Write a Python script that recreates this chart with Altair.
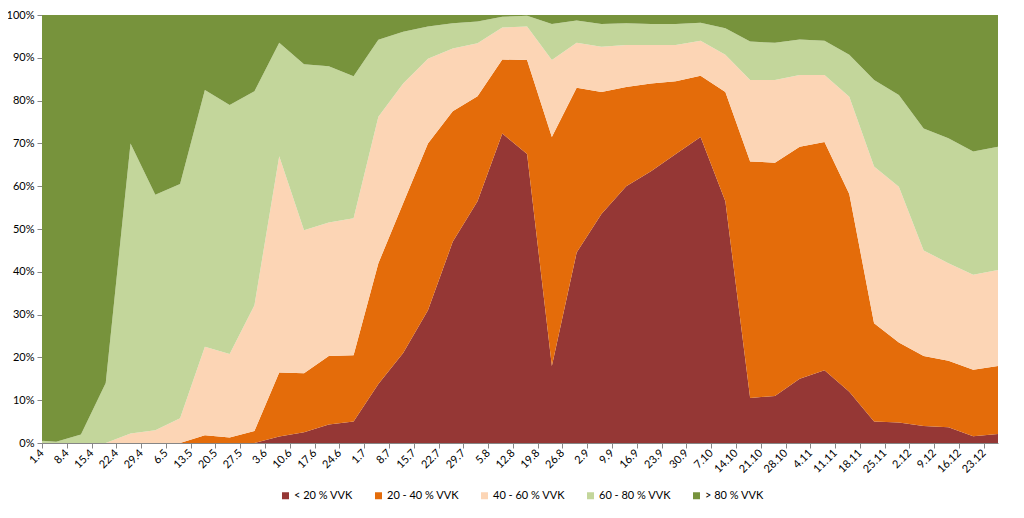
import altair as alt
import pandas as pd

# Data point dates (d.m)
dates = ["1.4", "5.4", "12.4", "19.4", "26.4", "3.5", "10.5", "17.5", "24.5", "31.5",
         "7.6", "14.6", "21.6", "28.6", "5.7", "12.7", "19.7", "26.7", "2.8", "9.8",
         "16.8", "23.8", "30.8", "6.9", "13.9", "20.9", "27.9", "4.10", "11.10", "18.10",
         "25.10", "1.11", "8.11", "15.11", "22.11", "29.11", "6.12", "13.12", "20.12", "27.12"]

# Axis tick labels (weekly)
tick_labels = ["1.4", "8.4", "15.4", "22.4", "29.4", "6.5", "13.5", "20.5", "27.5", "3.6",
               "10.6", "17.6", "24.6", "1.7", "8.7", "15.7", "22.7", "29.7", "5.8", "12.8",
               "19.8", "26.8", "2.9", "9.9", "16.9", "23.9", "30.9", "7.10", "14.10", "21.10",
               "28.10", "4.11", "11.11", "18.11", "25.11", "2.12", "9.12", "16.12", "23.12"]

categories = ["< 20 % VVK", "20 - 40 % VVK", "40 - 60 % VVK", "60 - 80 % VVK", "> 80 % VVK"]
colors = ["#953735", "#E46C0A", "#FCD5B5", "#C3D69B", "#77933C"]

s_lt20 = [0, 0, 0, 0, 0, 0, 0, 0, 0, 0,
          1.5, 2.5, 4.3, 5.0, 13.8, 21.0, 31.0, 47.0, 56.5, 72.3,
          67.5, 18.0, 44.5, 53.5, 60.0, 63.5, 67.5, 71.5, 56.5, 10.5,
          11.0, 15.0, 17.0, 12.0, 5.0, 4.8, 4.0, 3.7, 1.6, 2.1]
s_20_40 = [0, 0, 0, 0, 0, 0, 0, 1.8, 1.3, 2.8,
           15.0, 13.8, 16.0, 15.5, 28.2, 35.0, 39.0, 30.5, 24.5, 17.3,
           22.0, 53.5, 38.5, 28.5, 23.2, 20.5, 17.0, 14.3, 25.5, 55.3,
           54.5, 54.2, 53.3, 46.2, 23.0, 18.7, 16.3, 15.5, 15.5, 15.9]
s_40_60 = [0, 0, 0, 0, 2.2, 3.0, 5.8, 20.7, 19.5, 29.4,
           50.5, 33.4, 31.2, 32.0, 34.2, 28.0, 19.8, 14.7, 12.4, 7.5,
           7.8, 18.0, 10.5, 10.6, 9.8, 9.0, 8.5, 8.2, 8.7, 19.0,
           19.3, 16.8, 15.7, 22.7, 36.6, 36.4, 24.7, 22.8, 22.2, 22.4]
s_60_80 = [0.5, 0.3, 2.0, 14.0, 67.8, 55.0, 54.7, 60.0, 58.2, 50.0,
           26.5, 38.8, 36.5, 33.2, 18.0, 12.1, 7.5, 5.9, 5.1, 2.5,
           2.5, 8.4, 5.2, 5.3, 5.1, 4.9, 4.9, 4.2, 6.2, 9.0,
           8.7, 8.3, 8.0, 9.8, 20.2, 21.4, 28.5, 29.2, 28.8, 28.8]
s_gt80 = [99.5, 99.7, 98.0, 86.0, 30.0, 42.0, 39.5, 17.5, 21.0, 17.8,
          6.5, 11.5, 12.0, 14.3, 5.8, 3.9, 2.7, 1.9, 1.5, 0.4,
          0.2, 2.1, 1.3, 2.1, 1.9, 2.1, 2.1, 1.8, 3.1, 6.2,
          6.5, 5.7, 6.0, 9.3, 15.2, 18.7, 26.5, 28.8, 31.9, 30.8]

series = [s_lt20, s_20_40, s_40_60, s_60_80, s_gt80]

start = pd.Timestamp(2013, 4, 1)


def to_day(s):
    d, m = s.split(".")
    return (pd.Timestamp(2013, int(m), int(d)) - start).days


days = [to_day(s) for s in dates]
tick_days = [to_day(s) for s in tick_labels]

rows = []
for ci, (cat, vals) in enumerate(zip(categories, series)):
    for day, v in zip(days, vals):
        rows.append({"day": day, "value": v, "cat": cat, "ord": ci})
df = pd.DataFrame(rows)

label_expr = "[" + ",".join("'" + l + "'" for l in tick_labels) + "][round(datum.value/7)]"

chart = alt.Chart(df).mark_area(interpolate="linear").encode(
    x=alt.X("day:Q",
            scale=alt.Scale(domain=[days[0], days[-1]], nice=False, zero=False),
            axis=alt.Axis(values=tick_days, labelExpr=label_expr, labelAngle=-45,
                          labelAlign="right", labelBaseline="middle", tickSize=5,
                          title=None, grid=False, labelPadding=3, labelOverlap=False,
                          labelFlush=False)),
    y=alt.Y("value:Q", stack="normalize",
            scale=alt.Scale(domain=[0, 1], nice=False),
            axis=alt.Axis(values=[i / 10 for i in range(11)], format=".0%", title=None,
                          grid=False, tickSize=5, labelPadding=3)),
    color=alt.Color("cat:N", scale=alt.Scale(domain=categories, range=colors),
                    legend=alt.Legend(title=None, orient="none", legendX=238, legendY=475,
                                      direction="horizontal", symbolType="square",
                                      symbolSize=49, symbolStrokeWidth=0,
                                      labelFontSize=11, labelFont="Lato",
                                      labelColor="#000000", columnPadding=20,
                                      labelOffset=3, padding=0)),
    order=alt.Order("ord:Q", sort="ascending"),
).properties(
    width=956, height=428,
    autosize=alt.AutoSizeParams(type="none"),
    padding={"left": 34, "top": 7, "right": 18, "bottom": 60},
).configure_axis(
    labelFont="Lato", labelFontSize=11, labelColor="#000000",
    domainColor="#868686", tickColor="#868686",
).configure_view(strokeWidth=0)

chart.save("out.html", embed_options={"renderer": "svg", "actions": False})
